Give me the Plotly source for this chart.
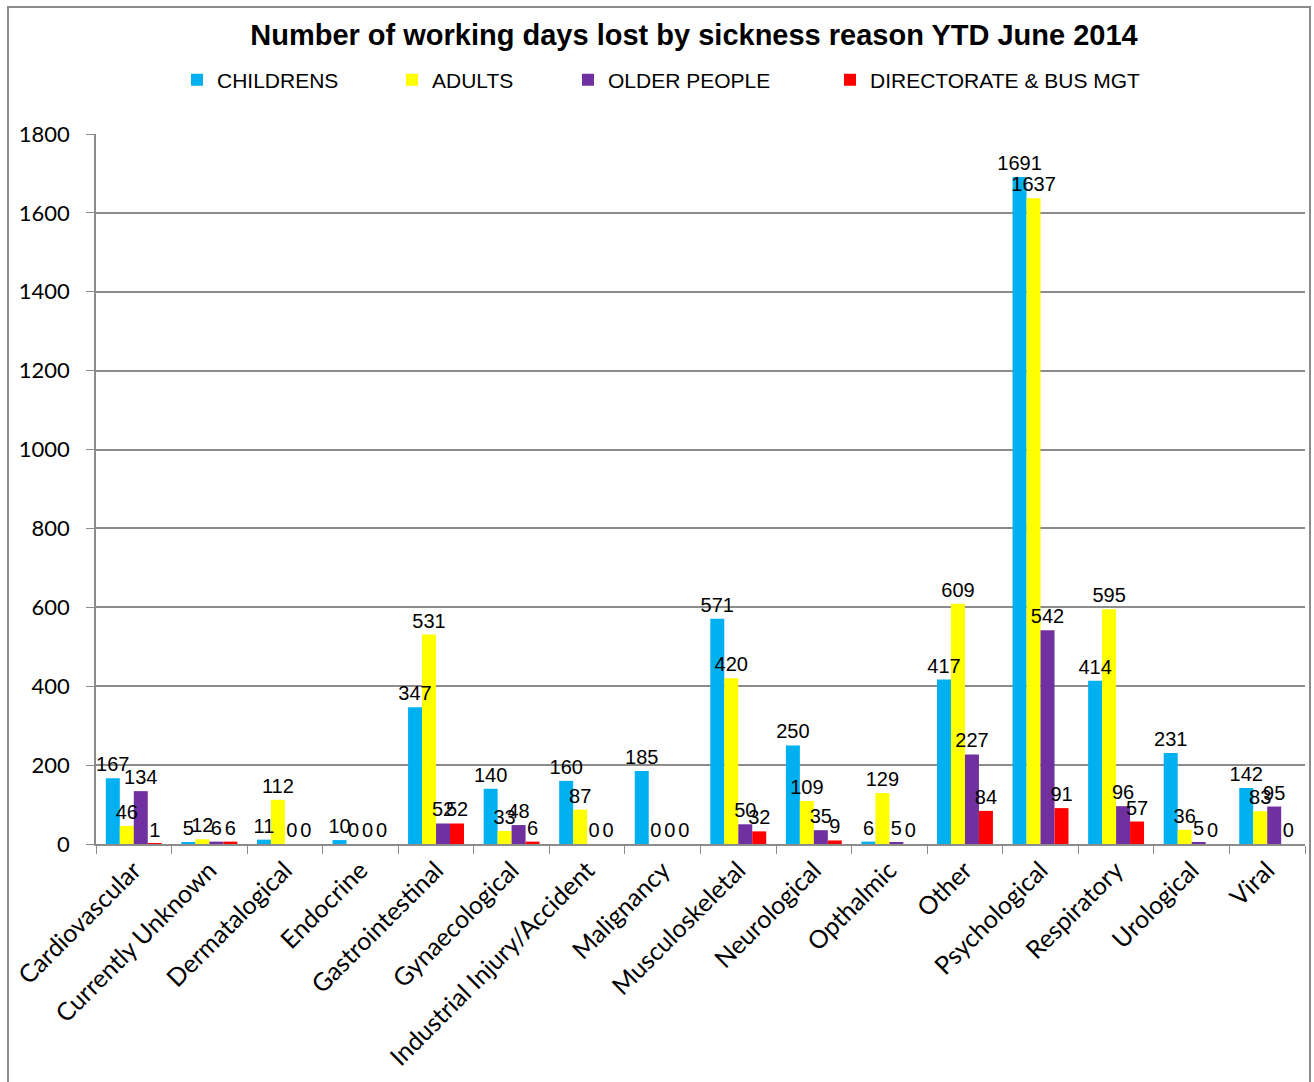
import plotly.graph_objects as go

categories = ["Cardiovascular", "Currently Unknown", "Dermatalogical", "Endocrine",
              "Gastrointestinal", "Gynaecological", "Industrial Injury/Accident",
              "Malignancy", "Musculoskeletal", "Neurological", "Opthalmic", "Other",
              "Psychological", "Respiratory", "Urological", "Viral"]
childrens = [167, 5, 11, 10, 347, 140, 160, 185, 571, 250, 6, 417, 1691, 414, 231, 142]
adults = [46, 12, 112, 0, 531, 33, 87, 0, 420, 109, 129, 609, 1637, 595, 36, 83]
older_people = [134, 6, 0, 0, 52, 48, 0, 0, 50, 35, 5, 227, 542, 96, 5, 95]
directorate = [1, 6, 0, 0, 52, 6, 0, 0, 32, 9, 0, 84, 91, 57, 0, 0]
y_ticks = [0, 200, 400, 600, 800, 1000, 1200, 1400, 1600, 1800]

series = [
    ("CHILDRENS", childrens, "#00B0F0", "legend"),
    ("ADULTS", adults, "#FFFF00", "legend2"),
    ("OLDER PEOPLE", older_people, "#7030A0", "legend3"),
    ("DIRECTORATE & BUS MGT", directorate, "#FF0000", "legend4"),
]

fig = go.Figure()
# visible bars
for i, (name, vals, col, lg) in enumerate(series):
    fig.add_trace(go.Bar(
        x=categories, y=vals, name=name, marker_color=col,
        marker_line_width=0, offsetgroup=str(i), legend=lg,
    ))
# data labels drawn on top of all bars (transparent bars carrying the text)
for i, (name, vals, col, lg) in enumerate(series):
    fig.add_trace(go.Bar(
        x=categories, y=vals, name=name, offsetgroup=str(i),
        marker_color="rgba(0,0,0,0)", marker_line_width=0,
        text=[str(v) for v in vals], textposition="outside", textangle=0,
        constraintext="none", cliponaxis=False,
        textfont=dict(family="Liberation Sans, Arial", size=20, color="black"),
        showlegend=False, hoverinfo="skip",
    ))

L, R, T, B = 96, 9, 134, 238
W, H = 1314, 1082
pw = W - L - R
ph = H - T - B

def px2x(px):
    return (px - L) / pw

def py2y(py):
    return (H - B - py) / ph

leg_common = dict(orientation="h", yanchor="middle", xanchor="left",
                  font=dict(family="Liberation Sans, Arial", size=21, color="black"),
                  bgcolor="rgba(0,0,0,0)", itemwidth=30)
legend_x = [177, 392, 568, 830]
fig.update_layout(
    width=W, height=H,
    margin=dict(l=L, r=R, t=T, b=B),
    paper_bgcolor="white", plot_bgcolor="white",
    barmode="group", bargap=0.26, bargroupgap=0,
    title=dict(text="<b>Number of working days lost by sickness reason YTD June 2014</b>",
               x=px2x(694), xref="paper", xanchor="center", y=1 - 35 / H, yanchor="middle",
               font=dict(family="Liberation Sans, Arial", size=29, color="black")),
    legend=dict(x=px2x(legend_x[0]), y=py2y(80), **leg_common),
    legend2=dict(x=px2x(legend_x[1]), y=py2y(80), **leg_common),
    legend3=dict(x=px2x(legend_x[2]), y=py2y(80), **leg_common),
    legend4=dict(x=px2x(legend_x[3]), y=py2y(80), **leg_common),
    showlegend=True,
    font=dict(family="Lato", color="black"),
)
fig.update_yaxes(range=[0, 1800], tickvals=y_ticks, showgrid=True,
                 gridcolor="#8c8c8c", gridwidth=1.5, showline=True, linecolor="#8c8c8c",
                 linewidth=1.5, ticks="outside", ticklen=8, tickcolor="#8c8c8c",
                 tickfont=dict(family="Lato", size=22, color="black"),
                 ticklabelstandoff=12, zeroline=False)
fig.update_xaxes(tickangle=-45, showline=True, linecolor="#8c8c8c", linewidth=1.5,
                 ticks="outside", ticklen=8, tickcolor="#8c8c8c", tickson="boundaries",
                 tickfont=dict(family="Lato", size=25, color="black"), showgrid=False,
                 mirror=False)
# outer chart border
fig.add_shape(type="rect", xref="paper", yref="paper",
              x0=px2x(8), x1=px2x(1310), y0=py2y(1095), y1=py2y(7),
              line=dict(color="#8c8c8c", width=2), layer="below")

fig.write_html("out.html")
